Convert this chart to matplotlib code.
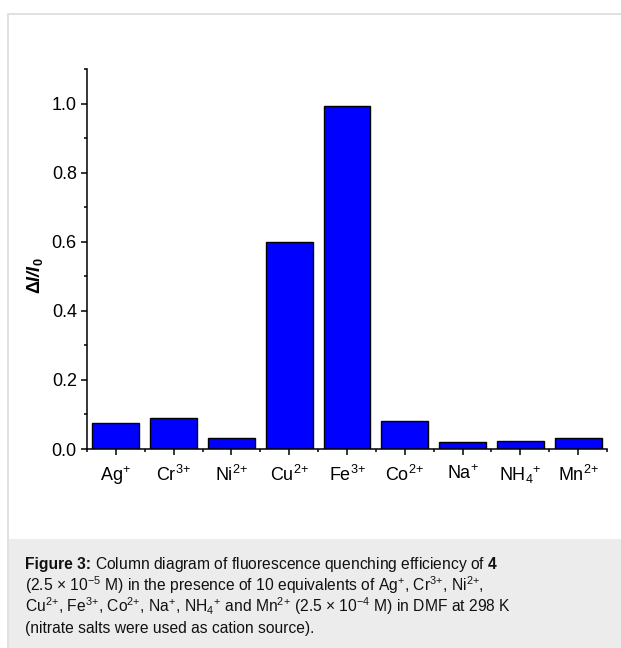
import matplotlib
matplotlib.use("Agg")
import matplotlib.pyplot as plt
from matplotlib.patches import Rectangle
from matplotlib.ticker import MultipleLocator, FixedLocator, FormatStrFormatter

plt.rcParams['font.family'] = ['Liberation Sans', 'DejaVu Sans']
plt.rcParams['mathtext.fontset'] = 'custom'
plt.rcParams['mathtext.rm'] = 'Liberation Sans'
plt.rcParams['mathtext.it'] = 'Liberation Sans:italic'
plt.rcParams['mathtext.bf'] = 'Liberation Sans:bold'
plt.rcParams['mathtext.bfit'] = 'Liberation Sans:bold:italic'

ions = ['Ag$^{{+}}$', 'Cr$^{3{+}}$', 'Ni$^{2{+}}$', 'Cu$^{2{+}}$', 'Fe$^{3{+}}$',
        'Co$^{2{+}}$', 'Na$^{{+}}$', 'NH$_{4}$$^{{+}}$', 'Mn$^{2{+}}$']
quench = [0.076, 0.089, 0.033, 0.599, 0.994, 0.080, 0.021, 0.023, 0.033]

caption_head = 'Figure 3:'
caption = [
    'Column diagram of fluorescence quenching efficiency of $\\mathbf{4}$',
    '(2.5 × 10$^{-5}$ M) in the presence of 10 equivalents of Ag$^{{+}}$, Cr$^{3{+}}$, Ni$^{2{+}}$,',
    'Cu$^{2{+}}$, Fe$^{3{+}}$, Co$^{2{+}}$, Na$^{{+}}$, NH$_{4}$$^{{+}}$ and Mn$^{2{+}}$ (2.5 × 10$^{-4}$ M) in DMF at 298 K',
    '(nitrate salts were used as cation source).',
]

W, H = 621, 648
fig = plt.figure(figsize=(W / 100, H / 100), dpi=100)

# page frame and caption panel (pixel coords -> figure fraction)
fig.patches.append(Rectangle((8 / W, -0.1), 1.2, 1 - 14 / H + 0.1, transform=fig.transFigure,
                             facecolor='white', edgecolor='#dcdcdc', lw=1.2, zorder=-2))
fig.patches.append(Rectangle((8.7 / W, 0), 1.2, 1 - 539 / H, transform=fig.transFigure,
                             facecolor='#ececec', edgecolor='none', zorder=-1))

ax = fig.add_axes([87 / W, 1 - 449 / H, 520 / W, 380 / H])
ax.set_zorder(2)
ax.patch.set_alpha(0)
x = list(range(len(ions)))
ax.bar(x, quench, width=0.81, color='#0000ff', edgecolor='black', linewidth=1.0)

ax.set_xlim(-0.5, 8.5)
ax.set_ylim(0, 1.1)
ax.set_xticks(x)
ax.set_xticklabels(ions)
ax.xaxis.set_minor_locator(FixedLocator([i - 0.5 for i in range(10)]))
ax.yaxis.set_major_locator(MultipleLocator(0.2))
ax.yaxis.set_minor_locator(MultipleLocator(0.1))
ax.yaxis.set_major_formatter(FormatStrFormatter('%.1f'))
ax.tick_params(axis='both', which='major', length=4.3, width=1.1, labelsize=13)
ax.tick_params(axis='x', which='major', pad=7)
ax.tick_params(axis='y', which='major', pad=3)
ax.tick_params(axis='both', which='minor', length=2.5, width=1.1)
ax.spines['top'].set_visible(False)
ax.spines['right'].set_visible(False)
for s in ('left', 'bottom'):
    ax.spines[s].set_linewidth(1.1)

ax.set_ylabel(r'$\mathbf{\Delta}\mathbfit{I/I}_{\mathbf{0}}$', fontsize=13)
ax.yaxis.set_label_coords(-0.08, 0.455)

cap_font = ['Liberation Sans', 'DejaVu Sans']
cap_size = 11.25
base = [569, 590.5, 612, 633.5]
head = fig.text(25 / W, 1 - base[0] / H, caption_head, fontsize=cap_size, family=cap_font,
                weight='bold', color='#111111', va='baseline', ha='left')
fig.canvas.draw()
head_end = head.get_window_extent(fig.canvas.get_renderer()).x1 + 4
for i, line in enumerate(caption):
    x0 = head_end / W if i == 0 else 25 / W
    fig.text(x0, 1 - base[i] / H, line, fontsize=cap_size, family=cap_font,
             color='#111111', va='baseline', ha='left')

fig.savefig('out.png', dpi=100)
